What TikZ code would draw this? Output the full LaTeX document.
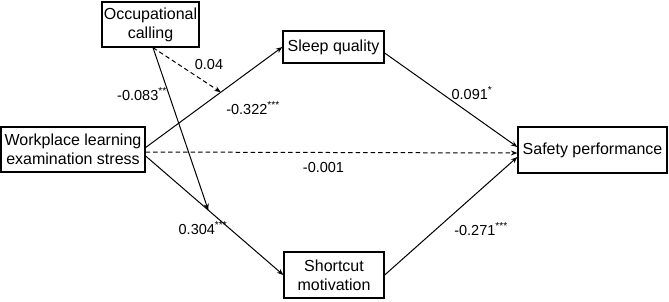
\documentclass[tikz,border=0pt]{standalone}
\usepackage{fontspec}
\setmainfont{Liberation Sans}
\usetikzlibrary{arrows.meta}
\begin{document}
\begin{tikzpicture}[x=1pt,y=-1pt,
  box/.style={draw,line width=1.3pt,inner sep=0pt,align=center,font=\fontsize{16}{19}\selectfont},
  lab/.style={inner sep=0pt,font=\fontsize{14.5}{16}\selectfont},
  arr/.style={line width=1pt,-{Stealth[length=6.5pt,width=5pt]}},
  darr/.style={arr,dash pattern=on 4.5pt off 3pt}]
\useasboundingbox (0,0) rectangle (669,301);
\node[box,minimum width=97pt,minimum height=45pt] (occ) at (150.5,24.5) {Occupational\\calling};
\node[box,minimum width=144pt,minimum height=45pt] (wp) at (73,149.5) {Workplace learning\\examination stress};
\node[box,minimum width=101pt,minimum height=32pt] (sleep) at (333.5,47) {Sleep quality};
\node[box,minimum width=149pt,minimum height=46pt] (safe) at (592.5,150) {Safety performance};
\node[box,minimum width=100pt,minimum height=46pt] (short) at (334,275) {Shortcut\\motivation};
\coordinate (wpa) at ([yshift=2pt]wp.east);
\coordinate (wpb) at ([yshift=-2.5pt]wp.east);
\coordinate (wpc) at ([yshift=-6.5pt]wp.east);
\draw[arr] (wpa) -- (sleep.west) coordinate[pos=0.55] (m1);
\draw[darr] (wpb) -- ([yshift=-3pt]safe.west);
\draw[arr] (wpc) -- (short.west) coordinate[pos=0.455] (m2);
\draw[arr] ([yshift=-6pt]sleep.east) -- ([yshift=3pt]safe.west);
\draw[arr] (short.east) -- ([yshift=-7pt]safe.west);
\coordinate (oc) at ([xshift=2.5pt]occ.south);
\draw[darr] (oc) -- (m1);
\draw[arr] (oc) -- (m2);
\node[lab] (l1) at (209,65) {0.04};
\node[lab] (l2) at (142,94) {-0.083\textsuperscript{**}};
\node[lab] (l3) at (253,108) {-0.322\textsuperscript{***}};
\node[lab] (l4) at (323.5,168) {-0.001};
\node[lab] (l5) at (203,228) {0.304\textsuperscript{***}};
\node[lab] (l6) at (472,93) {0.091\textsuperscript{*}};
\node[lab] (l7) at (481,229) {-0.271\textsuperscript{***}};
\end{tikzpicture}
\end{document}
